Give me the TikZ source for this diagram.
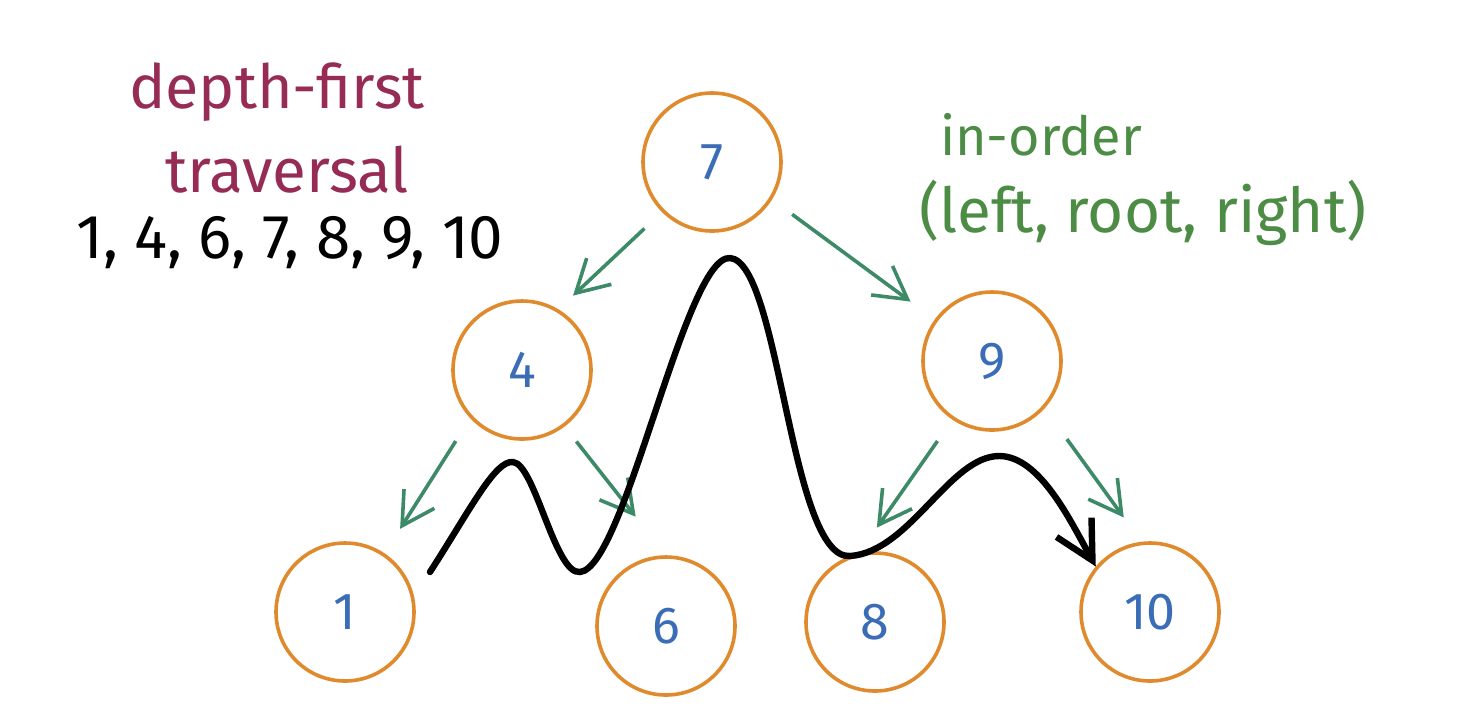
\documentclass[tikz,border=0pt]{standalone}
\usepackage{fontspec}
\setmainfont{Fira Sans}
\usetikzlibrary{arrows.meta,calc}
\definecolor{ring}{HTML}{E08A2E}
\definecolor{num}{HTML}{3A6DB5}
\definecolor{garr}{HTML}{3D8A68}
\definecolor{gtext}{HTML}{4C8C45}
\definecolor{maroon}{HTML}{962C55}
\tikzset{
  treenode/.style={circle,draw=ring,line width=1.8pt,minimum size=69pt,inner sep=0pt,
    text=num,font=\fontsize{26}{26}\selectfont},
  garrow/.style={draw=garr,line width=1.8pt,-{Straight Barb[length=16pt,width=18pt]}},
  walk/.style={draw=black,line width=3.2pt,line cap=round,-{Straight Barb[length=19pt,width=20pt,line width=3.2pt]}},
  label/.style={font=\fontsize{30}{30}\selectfont,inner sep=0pt}
}
\begin{document}
\begin{tikzpicture}[x=0.5pt,y=-0.5pt]
\useasboundingbox (0,0) rectangle (1462,720);
\node[treenode] (n7) at (712,162) {7};
\node[treenode] (n4) at (522,370) {4};
\node[treenode] (n9) at (992,361) {9};
\node[treenode] (n1) at (345,612) {1};
\node[treenode] (n6) at (666,626) {6};
\node[treenode] (n8) at (875,622) {8};
\node[treenode] (n10) at (1150,612) {10};

\draw[garrow,shorten <=12pt,shorten >=10pt] (n7.225) -- (n4.59);
\draw[garrow,shorten <=12.5pt,shorten >=15pt] (n7.-32.5) -- (n9.144);
\draw[garrow,shorten <=13.5pt,shorten >=14.5pt] (n4.223.5) -- (n1.56);
\draw[garrow,shorten <=9.5pt,shorten >=24.5pt] (n4.-53) -- (n6.90);
\draw[garrow,shorten <=13pt,shorten >=15.5pt] (n9.236) -- (n8.103);
\draw[garrow,shorten <=19pt,shorten >=15pt] (n9.-42) -- (n10.97);

\coordinate (wstart) at (430,572);
\draw[walk] (wstart) .. controls (470,510) and (495,460) .. (513,462)
  .. controls (535,464) and (555,575) .. (580,572)
  .. controls (625,568) and (685,255) .. (730,258)
  .. controls (780,262) and (790,560) .. (850,556)
  .. controls (910,552) and (950,455) .. (1000,456)
  .. controls (1040,457) and (1070,520) .. (n10.140);

\node[label,text=maroon,font=\fontsize{30.5}{30.5}\selectfont] (t1) at (277,92) {depth-first};
\node[label,text=maroon,font=\fontsize{31}{31}\selectfont] (t2) at (287,170) {traversal};
\node[label,text=black,font=\fontsize{31}{31}\selectfont] (t3) at (290,243) {1, 4, 6, 7, 8, 9, 10};
\node[label,text=gtext,font=\fontsize{27}{27}\selectfont] (t4) at (1041,135) {in-order};
\node[label,text=gtext,font=\fontsize{31}{31}\selectfont] (t5) at (1143,213) {(left, root, right)};
\end{tikzpicture}
\end{document}
